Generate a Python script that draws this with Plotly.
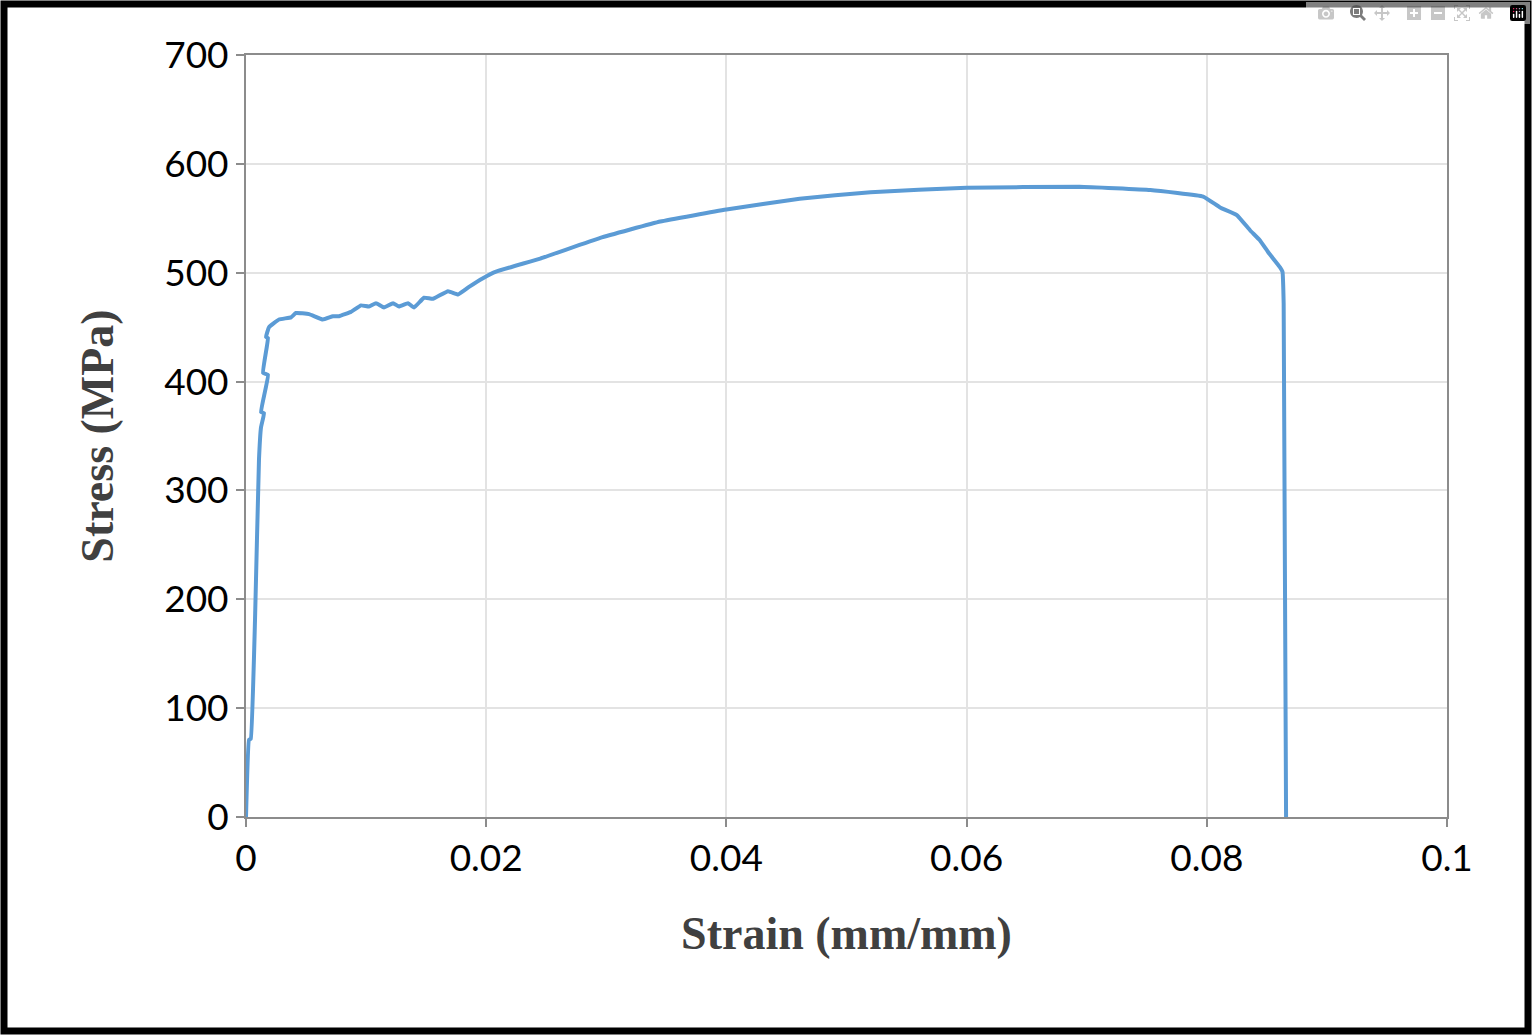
import plotly.graph_objects as go

strain = [0, 0.00025, 0.0004, 0.00075, 0.00108, 0.00125, 0.0015, 0.00125, 0.00183, 0.00142, 0.00183, 0.00167,
          0.00192, 0.00275, 0.00375, 0.00416, 0.00525, 0.0064, 0.00724, 0.00774, 0.00874, 0.00958, 0.01024,
          0.01082, 0.01149, 0.01224, 0.01274, 0.01349, 0.01399, 0.01482, 0.01557, 0.01682, 0.01765, 0.01857,
          0.01973, 0.02082, 0.0245, 0.0295, 0.0345, 0.04, 0.0461, 0.052, 0.06, 0.0694, 0.0753, 0.0797,
          0.0811, 0.0825, 0.0836, 0.0844, 0.0851, 0.0861, 0.0863, 0.0864, 0.0866]
stress = [0, 71, 72, 181, 328, 358, 371, 372, 406, 408, 440, 441,
          450, 457, 459, 463, 462, 457, 460, 460, 464, 470, 469,
          472, 468, 472, 469, 472, 468, 477, 476, 483, 480, 487,
          495, 501, 513, 532, 547, 558, 568, 574, 578, 579, 576, 570,
          560, 553, 539, 530, 519, 505, 501, 472, 0]

W, H = 1532, 1035
L, R, T, B = 246, 85, 55, 218
pw, ph = W - L - R, H - T - B

fig = go.Figure(go.Scatter(x=strain, y=stress, mode="lines",
                           line=dict(color="#5B9BD5", width=4, shape="spline", smoothing=0.3)))

tickfont = dict(family="Lato, Open Sans, sans-serif", size=37, color="black")
titlefont = dict(family="Liberation Serif, serif", size=46, color="#404040")
fig.update_layout(
    width=W, height=H, margin=dict(l=L, r=R, t=T, b=B),
    paper_bgcolor="white", plot_bgcolor="white", showlegend=False,
    xaxis=dict(range=[0, 0.1], tickvals=[0, 0.02, 0.04, 0.06, 0.08, 0.1],
               ticktext=["0", "0.02", "0.04", "0.06", "0.08", "0.1"],
               showgrid=True, gridcolor="#E3E3E3", gridwidth=1.5,
               showline=True, linecolor="#8C8C8C", linewidth=2, mirror=True,
               ticks="outside", ticklen=8, tickcolor="#8C8C8C", tickwidth=2,
               tickfont=tickfont, zeroline=False,
               title=dict(text="<b>Strain (mm/mm)</b>", font=titlefont, standoff=38)),
    yaxis=dict(range=[0, 700], dtick=100,
               showgrid=True, gridcolor="#E3E3E3", gridwidth=1.5,
               showline=True, linecolor="#8C8C8C", linewidth=2, mirror=True,
               ticks="outside", ticklen=8, tickcolor="#8C8C8C", tickwidth=2,
               tickfont=tickfont, zeroline=False,
               title=dict(text="<b>Stress (MPa)</b>", font=titlefont, standoff=36)),
    shapes=[dict(type="rect", xref="paper", yref="paper",
                 x0=(4 - L) / pw, x1=(W - 4 - L) / pw,
                 y0=-(H - 4 - T - ph) / ph, y1=1 + (T - 4) / ph,
                 line=dict(color="black", width=7))],
)
fig.write_html("out.html", post_script="document.body.style.margin='0';document.body.style.overflow='hidden';")
